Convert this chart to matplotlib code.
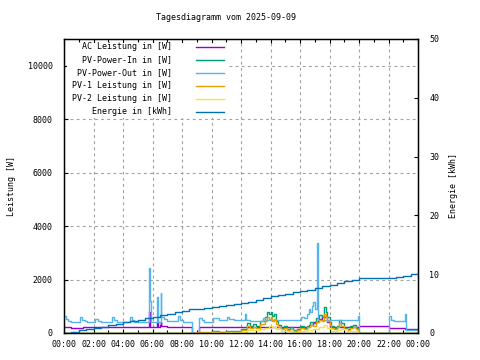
import matplotlib
matplotlib.use("Agg")
import matplotlib.pyplot as plt
from matplotlib.lines import Line2D
from matplotlib.patches import Rectangle

title = "Tagesdiagramm vom 2025-09-09"
x_ticks = list(range(0, 25, 2))
x_labels = ["00:00", "02:00", "04:00", "06:00", "08:00", "10:00", "12:00",
            "14:00", "16:00", "18:00", "20:00", "22:00", "00:00"]

# AC Leistung in [W]
ac_t = [0.0, 0.5, 1.3, 2.2, 3.0, 4.0, 5.0, 5.77, 5.85, 6.3, 6.36, 6.5, 6.55, 6.6,
        7.0, 8.65, 9.17, 12.0, 16.6, 16.9, 17.2, 17.5, 17.8, 18.0, 20.0, 22.0,
        23.15, 24.0]
ac_w = [235, 180, 235, 210, 240, 220, 230, 780, 230, 420, 230, 300, 420, 250,
        235, 0, 230, 215, 300, 420, 520, 600, 400, 210, 260, 180, 140, 140]

# PV-Power-In in [W]
pvin_t = [0.0, 9.9, 10.0, 10.5, 11.0, 11.5, 12.0, 12.4, 12.6, 12.8, 13.0, 13.3,
          13.6, 13.75, 13.9, 14.0, 14.1, 14.25, 14.4, 14.5, 14.7, 14.9, 15.1,
          15.3, 15.5, 15.8, 16.0, 16.3, 16.5, 16.7, 16.9, 17.1, 17.3, 17.5,
          17.65, 17.75, 17.85, 18.0, 18.1, 18.3, 18.5, 18.65, 18.8, 19.0, 19.2,
          19.4, 19.6, 19.8, 19.95, 24.0]
pvin_w = [0, 0, 60, 40, 70, 60, 150, 380, 250, 330, 280, 450, 610, 800, 700, 780,
          620, 700, 450, 300, 200, 260, 150, 220, 110, 150, 260, 200, 280, 420,
          380, 550, 670, 600, 960, 800, 600, 420, 250, 200, 280, 490, 380, 200,
          150, 250, 300, 200, 0, 0]

# PV-Power-Out in [W]
pvout_t = [0.0, 0.15, 0.3, 0.45, 1.1, 1.25, 1.4, 1.55, 2.1, 2.3, 2.5, 3.25, 3.4,
           3.6, 4.5, 4.6, 4.75, 5.77, 5.85, 5.9, 6.3, 6.36, 6.55, 6.6, 6.8, 7.0,
           7.7, 7.85, 8.1, 8.65, 9.17, 9.35, 9.5, 10.1, 10.5, 11.05, 11.2, 11.5,
           12.27, 12.35, 12.6, 13.5, 13.6, 16.1, 16.3, 16.5, 16.6, 16.7, 16.8,
           16.9, 17.0, 17.13, 17.2, 19.95, 20.0, 22.0, 22.2, 22.35, 23.1, 23.2,
           24.0]
pvout_w = [630, 540, 460, 420, 590, 500, 440, 400, 520, 460, 420, 590, 480, 400,
           610, 500, 430, 2430, 1200, 430, 1360, 430, 1510, 610, 520, 450, 635,
           500, 420, 0, 550, 480, 430, 550, 470, 610, 520, 490, 710, 500, 460,
           550, 470, 610, 550, 700, 900, 800, 1000, 1170, 900, 3370, 500, 635,
           0, 635, 500, 460, 710, 110, 110]

# PV-1 Leistung in [W]
pv1_t = [0.0, 9.0, 9.5, 10.0, 10.5, 11.0, 11.5, 12.0, 12.4, 12.6, 12.8, 13.0,
         13.3, 13.6, 13.75, 13.9, 14.0, 14.1, 14.25, 14.4, 14.5, 14.7, 14.9,
         15.1, 15.3, 15.5, 15.8, 16.0, 16.3, 16.5, 16.7, 16.9, 17.1, 17.3, 17.5,
         17.65, 17.75, 17.85, 18.0, 18.1, 18.3, 18.5, 18.65, 18.8, 19.0, 19.2,
         19.4, 19.6, 19.8, 19.95, 24.0]
pv1_w = [0, 40, 30, 50, 30, 50, 45, 110, 280, 180, 240, 200, 330, 450, 600, 520,
         610, 450, 520, 330, 220, 150, 190, 110, 160, 80, 110, 190, 150, 210,
         310, 280, 400, 500, 440, 720, 600, 450, 310, 180, 150, 210, 360, 280,
         150, 110, 180, 220, 150, 0, 0]

# PV-2 Leistung in [W]
pv2_t = [0.0, 10.0, 10.5, 11.0, 11.5, 12.0, 12.4, 12.8, 13.3, 13.6, 13.9, 14.1,
         14.4, 14.7, 15.1, 15.5, 16.0, 16.5, 16.9, 17.3, 17.65, 17.85, 18.1,
         18.5, 18.8, 19.2, 19.6, 19.95, 24.0]
pv2_w = [0, 20, 15, 25, 20, 50, 120, 110, 150, 200, 280, 220, 150, 80, 60, 40,
         90, 100, 140, 220, 300, 200, 90, 100, 150, 60, 90, 0, 0]

# Energie in [kWh]
en_t = [0.0, 0.5, 1.0, 1.5, 2.0, 2.5, 3.0, 3.5, 4.0, 4.5, 5.0, 5.5, 6.0, 6.5,
        7.0, 7.5, 8.0, 8.5, 9.0, 9.5, 10.0, 10.5, 11.0, 11.5, 12.0, 12.5, 13.0,
        13.5, 14.0, 14.5, 15.0, 15.5, 16.0, 16.5, 17.0, 17.5, 18.0, 18.5, 19.0,
        19.5, 20.0, 22.0, 22.5, 23.0, 23.5, 24.0]
en_kwh = [0.0, 0.2, 0.45, 0.65, 0.9, 1.1, 1.35, 1.6, 1.8, 2.05, 2.25, 2.5, 2.75,
          3.0, 3.25, 3.55, 3.8, 4.0, 4.1, 4.3, 4.5, 4.65, 4.8, 5.0, 5.15, 5.35,
          5.6, 5.9, 6.3, 6.5, 6.7, 6.9, 7.1, 7.35, 7.7, 7.95, 8.2, 8.5, 8.8,
          9.05, 9.3, 9.3, 9.5, 9.7, 10.0, 10.15]

labels = ["AC Leistung in [W]", "PV-Power-In in [W]", "PV-Power-Out in [W]",
          "PV-1 Leistung in [W]", "PV-2 Leistung in [W]", "Energie in [kWh]"]
colors = ["#9400d3", "#009e73", "#56b4e9", "#e69f00", "#f0e442", "#0072b2"]

plt.rcParams['font.family'] = ['DejaVu Sans Mono']
fs = 6

fig = plt.figure(figsize=(4.8, 3.6), dpi=100)
ax = fig.add_axes([64 / 480, 27 / 360, 354 / 480, 294 / 360])

# Leistungskurven
series = [(ac_t, ac_w), (pvin_t, pvin_w), (pvout_t, pvout_w),
          (pv1_t, pv1_w), (pv2_t, pv2_w)]
for (t, w), c in zip(series, colors[:5]):
    ax.plot(t, w, color=c, lw=1, drawstyle='steps-post')

ax.set_xlim(0, 24)
ax.set_ylim(0, 11000)
ax.set_xticks(x_ticks)
ax.set_xticklabels(x_labels)
ax.set_xticks(range(0, 25), minor=True)
ax.set_yticks(range(0, 11000, 2000))
ax.tick_params(axis='x', which='major', direction='in', length=3, width=0.8,
               top=True, labelsize=fs, pad=5)
ax.tick_params(axis='x', which='minor', direction='in', length=2, width=0.8,
               top=True)
ax.tick_params(axis='y', direction='in', length=3, width=0.8, labelsize=fs,
               pad=8)
ax.grid(True, which='major', color='#a0a0a0', linestyle=(0, (2.5, 3)), lw=0.8)
for s in ax.spines.values():
    s.set_linewidth(1)
ax.set_ylabel("Leistung [W]", fontsize=fs)
ax.yaxis.set_label_coords(-48 / 354, 0.5)

# opaker Legendenhintergrund (verdeckt das Gitter oben links)
ax.add_patch(Rectangle((0.2, 8050), 10.9, 10850 - 8050, facecolor='white',
                       edgecolor='none', zorder=1.8))

# Energie auf der rechten Achse
ax2 = ax.twinx()
ax2.plot(en_t, en_kwh, color=colors[5], lw=1, drawstyle='steps-post')
ax2.set_ylim(0, 50)
ax2.set_yticks(range(0, 51, 10))
ax2.tick_params(axis='y', direction='in', length=3, width=0.8, labelsize=fs,
                pad=8)
ax2.set_ylabel("Energie [kWh]", fontsize=fs)
ax2.yaxis.set_label_coords(1 + 31 / 354, 0.5)

fig.text(226 / 480, 1 - 17 / 360, title, fontsize=fs, ha='center', va='center')

# Legende (Text rechtsbuendig, Linie rechts daneben)
for i, (lab, c) in enumerate(zip(labels, colors)):
    y = 1 - (46.7 + 13 * i) / 360
    fig.text(172 / 480, y, lab, fontsize=fs, ha='right', va='center')
    fig.add_artist(Line2D([196 / 480, 224 / 480], [y, y], color=c, lw=1,
                          transform=fig.transFigure))

fig.savefig("out.png", dpi=100)
